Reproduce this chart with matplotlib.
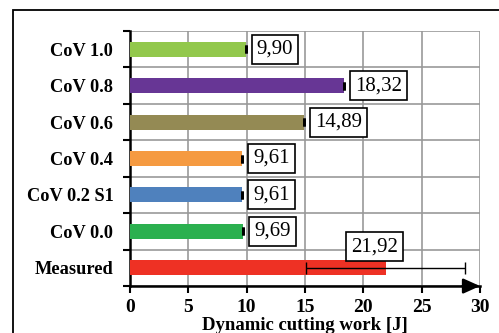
import matplotlib
matplotlib.use("Agg")
import matplotlib.pyplot as plt
from matplotlib.patches import Rectangle

categories = ["Measured", "CoV 0.0", "CoV 0.2 S1", "CoV 0.4", "CoV 0.6", "CoV 0.8", "CoV 1.0"]
values = [21.92, 9.69, 9.61, 9.61, 14.89, 18.32, 9.90]
errors = [6.8, 0, 0, 0, 0, 0, 0]
labels = ["21,92", "9,69", "9,61", "9,61", "14,89", "18,32", "9,90"]
colors = ["#EE3124", "#2BB04F", "#4F81BD", "#F59A41", "#948A54", "#673695", "#92C84C"]
xticks = [0, 5, 10, 15, 20, 25, 30]

plt.rcParams["font.family"] = ["Liberation Serif", "DejaVu Serif"]

fig = plt.figure(figsize=(4.99, 3.33), dpi=100)
ax = fig.add_axes([0.2605, 0.141, 0.7015, 0.766])

# outer frame around the chart area
fig.patches.append(Rectangle((13 / 499, -0.1), 1.2, 1 - 10 / 333 + 0.1,
                             transform=fig.transFigure, fill=False,
                             edgecolor="black", linewidth=1.3, clip_on=False))

y = range(len(categories))
ax.barh(y, values, height=0.41, color=colors, zorder=3)
for i, (v, e) in enumerate(zip(values, errors)):
    if e > 0:
        ax.errorbar(v, i, xerr=e, color="black", capsize=4, elinewidth=1,
                    capthick=1, zorder=4)
    else:
        ax.errorbar(v, i, xerr=0.0, color="black", capsize=3, capthick=2,
                    elinewidth=0, zorder=4)

box = dict(boxstyle="square,pad=0.24", facecolor="white", edgecolor="black", linewidth=1.2)
for i, (v, lab) in enumerate(zip(values, labels)):
    if i == 0:
        ax.annotate(lab, xy=(v, i), xytext=(-8, 15), textcoords="offset points",
                    ha="center", va="center", fontsize=15, bbox=box, zorder=5)
    else:
        ax.annotate(lab, xy=(v, i), xytext=(8.1, 0), textcoords="offset points",
                    ha="left", va="center", fontsize=15, bbox=box, zorder=5)

ax.set_xlim(0, 30)
ax.set_ylim(-0.5, len(categories) - 0.5)
ax.set_xticks(xticks)
ax.set_xticklabels([str(t) for t in xticks], fontsize=14, fontweight="bold")
ax.set_yticks(list(y))
ax.set_yticklabels(categories, fontsize=13.2, fontweight="bold")
ax.tick_params(axis="y", which="major", length=0, pad=12)
ax.set_yticks([k - 0.5 for k in range(len(categories) + 1)], minor=True)
ax.tick_params(axis="y", which="minor", length=5, width=1.5, direction="out")
ax.tick_params(axis="x", length=5, width=1.5, direction="out", pad=4)

ax.grid(True, axis="x", color="#999999", linewidth=1.2, zorder=0)
ax.grid(True, axis="y", which="minor", color="#999999", linewidth=1.2, zorder=0)
ax.set_axisbelow(True)

for s in ["top", "right"]:
    ax.spines[s].set_visible(False)
ax.spines["left"].set_linewidth(1.8)
ax.spines["bottom"].set_linewidth(1.8)
ax.annotate("", xy=(1.0, 0), xytext=(0.95, 0), xycoords="axes fraction",
            arrowprops=dict(arrowstyle="-|>,head_length=1.0,head_width=0.45",
                            color="black", linewidth=1.8, shrinkA=0, shrinkB=0),
            annotation_clip=False)

ax.set_xlabel("Dynamic cutting work [J]", fontsize=13.5, fontweight="bold", labelpad=1)

fig.savefig("out.png", dpi=100)
